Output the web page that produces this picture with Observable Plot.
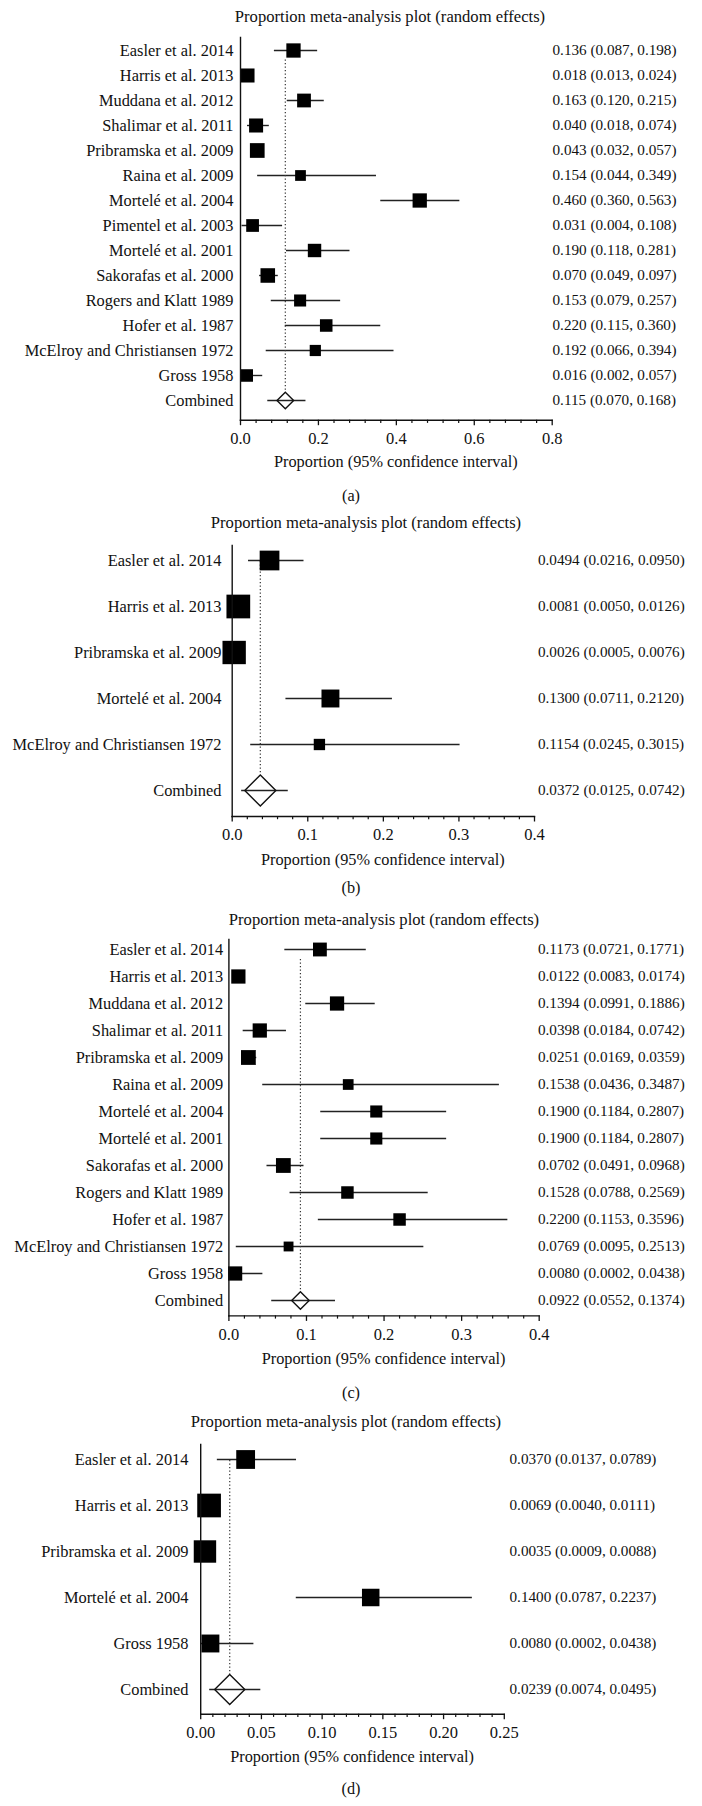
<!DOCTYPE html>
<html><head><meta charset="utf-8">
<script src="https://cdn.jsdelivr.net/npm/d3@7"></script>
<script src="https://cdn.jsdelivr.net/npm/@observablehq/plot@0.6"></script>
<style>
body{margin:0;background:#fff;}
#root{position:relative;width:702px;height:1806px;font-family:"Liberation Serif",serif;color:#111;overflow:hidden;}
.lbl{position:absolute;white-space:nowrap;transform:translate(-50%,-50%);line-height:1;}
</style></head><body><div id="root"></div>
<script>
// ---------- data ----------
const panelTitle = "Proportion meta-analysis plot (random effects)";
const axisTitle = "Proportion (95% confidence interval)";
const captions = ["(a)", "(b)", "(c)", "(d)"];

const studiesA = ["Easler et al. 2014","Harris et al. 2013","Muddana et al. 2012","Shalimar et al. 2011","Pribramska et al. 2009","Raina et al. 2009","Mortelé et al. 2004","Pimentel et al. 2003","Mortelé et al. 2001","Sakorafas et al. 2000","Rogers and Klatt 1989","Hofer et al. 1987","McElroy and Christiansen 1972","Gross 1958","Combined"];
const estA  = [0.136,0.018,0.163,0.040,0.043,0.154,0.460,0.031,0.190,0.070,0.153,0.220,0.192,0.016,0.115];
const lowA  = [0.087,0.013,0.120,0.018,0.032,0.044,0.360,0.004,0.118,0.049,0.079,0.115,0.066,0.002,0.070];
const highA = [0.198,0.024,0.215,0.074,0.057,0.349,0.563,0.108,0.281,0.097,0.257,0.360,0.394,0.057,0.168];
const weightA = [8.3,8.0,7.7,8.0,8.8,4.7,8.3,6.6,7.3,8.6,5.9,6.4,5.1,6.4];
const ticksA = [0,0.2,0.4,0.6,0.8];

const studiesB = ["Easler et al. 2014","Harris et al. 2013","Pribramska et al. 2009","Mortelé et al. 2004","McElroy and Christiansen 1972","Combined"];
const estB  = [0.0494,0.0081,0.0026,0.1300,0.1154,0.0372];
const lowB  = [0.0216,0.0050,0.0005,0.0711,0.0245,0.0125];
const highB = [0.0950,0.0126,0.0076,0.2120,0.3015,0.0742];
const weightB = [20.0,28.9,28.0,16.5,6.6];
const ticksB = [0,0.1,0.2,0.3,0.4];

const studiesC = ["Easler et al. 2014","Harris et al. 2013","Muddana et al. 2012","Shalimar et al. 2011","Pribramska et al. 2009","Raina et al. 2009","Mortelé et al. 2004","Mortelé et al. 2001","Sakorafas et al. 2000","Rogers and Klatt 1989","Hofer et al. 1987","McElroy and Christiansen 1972","Gross 1958","Combined"];
const estC  = [0.1173,0.0122,0.1394,0.0398,0.0251,0.1538,0.1900,0.1900,0.0702,0.1528,0.2200,0.0769,0.0080,0.0922];
const lowC  = [0.0721,0.0083,0.0991,0.0184,0.0169,0.0436,0.1184,0.1184,0.0491,0.0788,0.1153,0.0095,0.0002,0.0552];
const highC = [0.1771,0.0174,0.1886,0.0742,0.0359,0.3487,0.2807,0.2807,0.0968,0.2569,0.3596,0.2513,0.0438,0.1374];
const weightC = [8.5,9.0,9.0,9.0,9.7,5.1,6.5,6.5,9.7,6.9,6.9,4.3,9.0];
const ticksC = [0,0.1,0.2,0.3,0.4];

const studiesD = ["Easler et al. 2014","Harris et al. 2013","Pribramska et al. 2009","Mortelé et al. 2004","Gross 1958","Combined"];
const estD  = [0.0370,0.0069,0.0035,0.1400,0.0080,0.0239];
const lowD  = [0.0137,0.0040,0.0009,0.0787,0.0002,0.0074];
const highD = [0.0789,0.0111,0.0088,0.2237,0.0438,0.0495];
const weightD = [17.3,27.5,24.6,15.0,15.7];
const ticksD = [0,0.05,0.10,0.15,0.20,0.25];

// ---------- layout (pixels) ----------
const layouts = [
  {studies: studiesA, est: estA, low: lowA, high: highA, weight: weightA, ticks: ticksA, minorN: 5,
   dec: 3, tickDec: 1, titleX: 390, titleY: 16.7, axisTop: 37.3, firstRow: 45.5, lastRow: 405, axisBottom: 420,
   x0: 240, x1: 551.7, labelRight: 233, numLeft: 552, rMax: 28, dR: 7.5, dotTop: 9.5, capY: 496},
  {studies: studiesB, est: estB, low: lowB, high: highB, weight: weightB, ticks: ticksB, minorN: 5,
   dec: 4, tickDec: 1, titleX: 366, titleY: 523.3, axisTop: 545, firstRow: 557.7, lastRow: 791.7, axisBottom: 816,
   x0: 231.7, x1: 534, labelRight: 221, numLeft: 537.4, rMax: 24.9, dR: 14, dotTop: 1, capY: 888.3},
  {studies: studiesC, est: estC, low: lowC, high: highC, weight: weightC, ticks: ticksC, minorN: 5,
   dec: 4, tickDec: 1, titleX: 384, titleY: 920, axisTop: 939.3, firstRow: 948.3, lastRow: 1301, axisBottom: 1315.7,
   x0: 228.4, x1: 538.7, labelRight: 222.6, numLeft: 537.4, rMax: 26.8, dR: 7.9, dotTop: 10, capY: 1393.3},
  {studies: studiesD, est: estD, low: lowD, high: highD, weight: weightD, ticks: ticksD, minorN: 5,
   dec: 4, tickDec: 2, titleX: 346, titleY: 1421.7, axisTop: 1444.3, firstRow: 1459, lastRow: 1689.3, axisBottom: 1714,
   x0: 200.2, x1: 503.8, labelRight: 188, numLeft: 509, rMax: 25.5, dR: 13.6, dotTop: 1, capY: 1789.3}
];

const root = document.getElementById("root");
const FONT = '"Liberation Serif", "Times New Roman", serif';

function addLabel(text, x, y, size) {
  const d = document.createElement("div");
  d.className = "lbl";
  d.textContent = text;
  d.style.left = x + "px";
  d.style.top = y + "px";
  d.style.fontSize = size + "px";
  root.appendChild(d);
}

layouts.forEach((L, k) => {
  const rows = L.studies.map((s, i) => ({study: s, est: L.est[i], lo: L.low[i], hi: L.high[i], w: i < L.weight.length ? L.weight[i] : null}));
  const studyRows = rows.filter(d => d.w != null);
  const combined = rows.filter(d => d.w == null);
  const f = d3.format("." + L.dec + "f");
  const ft = d3.format("." + L.tickDec + "f");
  const xmax = L.ticks[L.ticks.length - 1];
  const minorStep = (L.ticks[1] - L.ticks[0]) / L.minorN;
  const minor = d3.range(0, L.ticks.length - 1).flatMap(j => d3.range(1, L.minorN).map(m => L.ticks[j] + m * minorStep));
  const top = L.axisTop - 10;
  const mt = 10, mb = 34;
  const height = (L.axisBottom - top) + mb;
  const halfD = 1.2525 * Math.sqrt(Math.PI) * L.dR / 2;

  const chart = Plot.plot({
    width: 702,
    height,
    marginLeft: L.x0,
    marginRight: 702 - L.x1,
    marginTop: mt,
    marginBottom: mb,
    x: {domain: [0, xmax], axis: null},
    y: {type: "point", domain: L.studies, range: [L.firstRow - top, L.lastRow - top], padding: 0, axis: null},
    r: {type: "sqrt", domain: [0, 100], range: [0, L.rMax]},
    style: {fontFamily: FONT, background: "transparent", overflow: "visible", color: "#111"},
    marks: [
      Plot.ruleY(rows, {y: "study", x1: "lo", x2: "hi", stroke: "#222", strokeWidth: 1.4}),
      Plot.ruleX(combined, {x: "est", y1: () => L.studies[0], y2: "study", stroke: "#333", strokeWidth: 1.2,
        strokeDasharray: "1.2,2.3", insetTop: L.dotTop, insetBottom: halfD}),
      Plot.dot(studyRows, {x: "est", y: "study", r: "w", symbol: "square", fill: "#000", stroke: null}),
      Plot.dot(combined, {x: "est", y: "study", r: L.dR, symbol: "diamond2", fill: "none", stroke: "#111", strokeWidth: 1.4}),
      Plot.frame({anchor: "left", stroke: "#111", strokeWidth: 1.4}),
      Plot.frame({anchor: "bottom", stroke: "#111", strokeWidth: 1.4}),
      Plot.axisX({ticks: minor, tickSize: 3.2, tickFormat: () => "", label: null, stroke: "#111", strokeWidth: 1.2}),
      Plot.axisX({ticks: L.ticks, tickSize: 5.5, tickPadding: 6.4, tickFormat: ft, label: null,
        fontSize: 16.5, fill: "#111", stroke: "#111", strokeWidth: 1.3}),
      Plot.text(rows, {y: "study", text: "study", frameAnchor: "left", textAnchor: "end",
        dx: L.labelRight - L.x0, fontSize: 16.4, fill: "#111"}),
      Plot.text(rows, {y: "study", text: d => `${f(d.est)} (${f(d.lo)}, ${f(d.hi)})`, frameAnchor: "right",
        textAnchor: "start", dx: L.numLeft - L.x1, fontSize: 15.2, fill: "#111"})
    ]
  });
  chart.style.position = "absolute";
  chart.style.left = "0px";
  chart.style.top = top + "px";
  chart.style.maxWidth = "none";
  root.appendChild(chart);

  addLabel(panelTitle, L.titleX, L.titleY, 16.6);
  addLabel(axisTitle, (L.x0 + L.x1) / 2, L.axisBottom + (k === 0 ? 42 : (k === 3 ? 42.7 : 43.5)), 16.3);
  addLabel(captions[k], 351, L.capY, 16.3);
});
</script>
</body></html>
